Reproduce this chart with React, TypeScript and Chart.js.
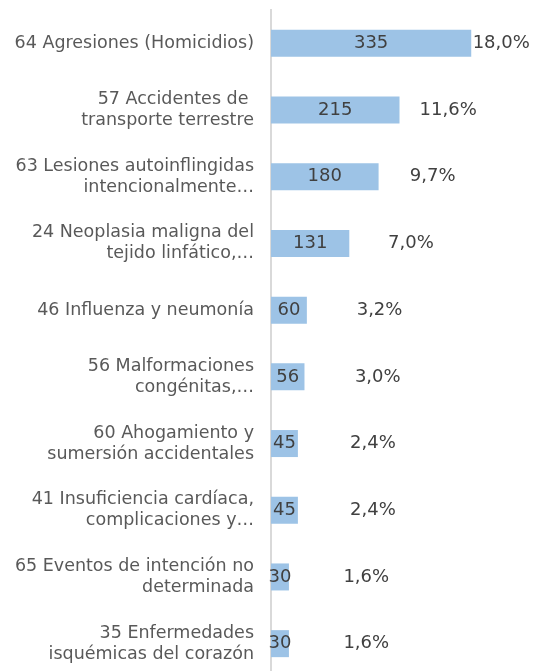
import React, { useEffect, useRef } from "react";
import { Chart, registerables } from "chart.js";

Chart.register(...registerables);

const categories: string[][] = [
  ["64 Agresiones (Homicidios)"],
  ["57 Accidentes de ", "transporte terrestre"],
  ["63 Lesiones autoinflingidas", "intencionalmente…"],
  ["24 Neoplasia maligna del", "tejido linfático,…"],
  ["46 Influenza y neumonía"],
  ["56 Malformaciones", "congénitas,…"],
  ["60 Ahogamiento y", "sumersión accidentales"],
  ["41 Insuficiencia cardíaca,", "complicaciones y…"],
  ["65 Eventos de intención no", "determinada"],
  ["35 Enfermedades", "isquémicas del corazón"],
];
const values: number[] = [335, 215, 180, 131, 60, 56, 45, 45, 30, 30];
const percents: string[] = ["18,0%", "11,6%", "9,7%", "7,0%", "3,2%", "3,0%", "2,4%", "2,4%", "1,6%", "1,6%"];

const FONT = "'DejaVu Sans', sans-serif";
const TEXT = "#404040";

const labelPlugin = {
  id: "barLabels",
  afterDatasetsDraw(chart: any) {
    const ctx = chart.ctx;
    const meta = chart.getDatasetMeta(0);
    const max = Math.max(...values);
    ctx.save();
    ctx.font = `18px ${FONT}`;
    ctx.fillStyle = TEXT;
    ctx.textBaseline = "middle";
    meta.data.forEach((bar: any, i: number) => {
      const base = bar.base;
      const end = bar.x;
      ctx.textAlign = "center";
      ctx.fillText(String(values[i]), (base + end) / 2, bar.y);
      const off = 30 + 52 * (1 - values[i] / max);
      ctx.fillText(percents[i], end + off, bar.y);
    });
    ctx.restore();
  },
};

export default function App() {
  const ref = useRef<HTMLCanvasElement>(null);
  useEffect(() => {
    if (!ref.current) return;
    const chart = new Chart(ref.current, {
      type: "bar",
      data: {
        labels: categories,
        datasets: [
          {
            data: values,
            backgroundColor: "#9dc3e6",
            borderWidth: 0,
            categoryPercentage: 1,
            barPercentage: 0.405,
          },
        ],
      },
      options: {
        indexAxis: "y",
        animation: false,
        responsive: false,
        maintainAspectRatio: false,
        layout: { padding: { top: 10, right: 0, bottom: 0, left: 0 } },
        plugins: { legend: { display: false }, tooltip: { enabled: false } },
        scales: {
          x: { display: false, min: 0, max: 440 },
          y: {
            grid: { display: false, drawTicks: false },
            border: { display: true, color: "#d9d9d9", width: 2 },
            ticks: {
              color: "#595959",
              font: { family: FONT, size: 17.5, lineHeight: 1.2 },
              padding: 17,
            },
            afterFit(scale: any) {
              scale.width = 271;
              scale.paddingTop = 0;
              scale.paddingBottom = 0;
            },
          },
        },
      },
      plugins: [labelPlugin],
    });
    return () => chart.destroy();
  }, []);
  return (
    <div style={{ position: "absolute", left: 0, top: 0, width: 534, height: 677 }}>
      <canvas ref={ref} width={534} height={677} style={{ display: "block" }} />
    </div>
  );
}
